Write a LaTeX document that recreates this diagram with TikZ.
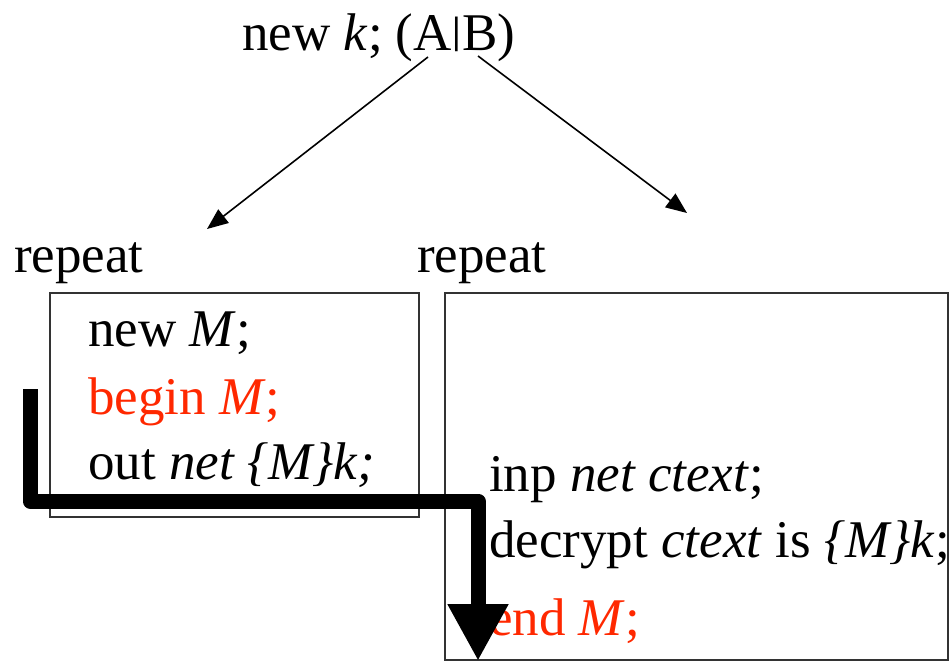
\documentclass[tikz,border=0pt]{standalone}
\usepackage{fontspec}
\usepackage{graphicx}
\setmainfont{Liberation Serif}
\usetikzlibrary{arrows.meta}
\definecolor{evred}{RGB}{255,40,0}
% a short vertical bar standing on the baseline
\newcommand{\parbar}{\raisebox{0.13em}{\scalebox{1}[0.72]{|}}}
\tikzset{
  txt/.style={anchor=base west, inner sep=0pt, font=\fontsize{53}{64}\selectfont},
  procbox/.style={draw=black!80, line width=1.4pt},
  thin arrow/.style={line width=1.6pt, -{Triangle[length=21pt,width=17pt]}},
  flow/.style={line width=15pt, line join=round, line cap=butt,
               -{Triangle[length=57pt,width=57pt]}}
}
\begin{document}
\begin{tikzpicture}[x=1pt,y=-1pt]
\useasboundingbox (0,0) rectangle (949,661);

% process boxes
\draw[procbox] (50,293) rectangle (419,517);
\draw[procbox] (445,293) rectangle (948,660);

% top: key creation and parallel composition
\node[txt] (title) at (242,50) {new \textit{k}; (A\parbar B)};
\coordinate (ls) at (428,57);
\coordinate (le) at (207,229);
\coordinate (rs) at (478,56);
\coordinate (re) at (687,213);
\draw[thin arrow] (ls) -- (le);
\draw[thin arrow] (rs) -- (re);

\node[txt] (repA) at (14,272) {repeat};
\node[txt] (repB) at (417,272) {repeat};

% sender A
\node[txt] (a1) at (88,346) {new \textit{M};};
\node[txt, text=evred] (a2) at (88,414) {begin \textit{M};};
\node[txt] (a3) at (88,479) {out \textit{net \{M\}k;}};

% receiver B
\node[txt] (b1) at (489,491) {inp \textit{net ctext};};
\node[txt] (b2) at (489,557) {decrypt \textit{ctext} is \textit{\{M\}k};};
\node[txt, text=evred] (b3) at (489,635) {end \textit{M};};

% control flow from begin to end
\coordinate (f0) at (30,389);
\coordinate (f1) at (30,501);
\coordinate (f2) at (478,501);
\coordinate (f3) at (478,661);
\draw[flow] (f0) -- (f1) -- (f2) -- (f3);
\end{tikzpicture}
\end{document}
